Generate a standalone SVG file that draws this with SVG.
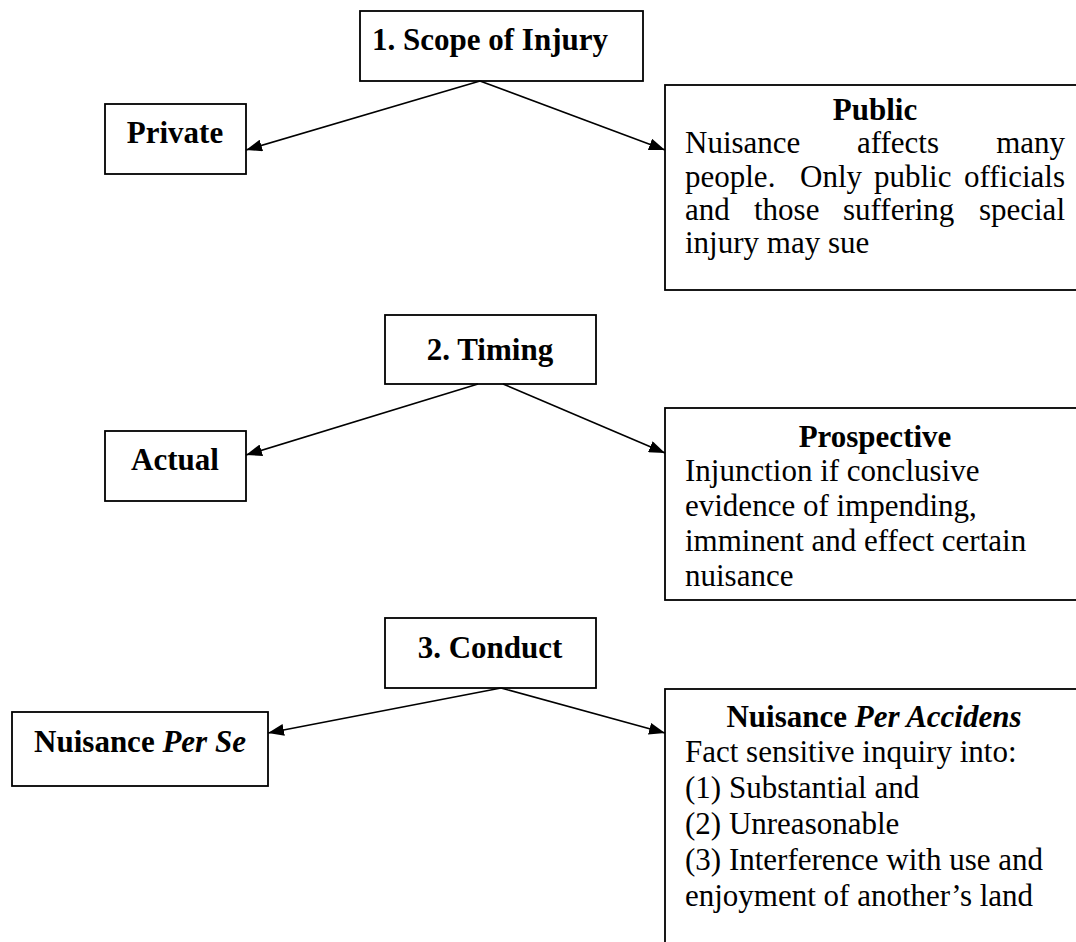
<svg xmlns="http://www.w3.org/2000/svg" width="1076" height="942" viewBox="0 0 1076 942">
<style>
.box{fill:#fff;stroke:#000;stroke-width:1.8}
.t{font-family:"Liberation Serif","Times New Roman",serif;font-size:31px;fill:#000}
.b{font-weight:bold}
.bi{font-weight:bold;font-style:italic}
.c{text-anchor:middle}
.conn line{stroke:#000;stroke-width:1.6}
</style>
<defs>
<marker id="ah" markerUnits="userSpaceOnUse" markerWidth="16" markerHeight="12" refX="16" refY="6" orient="auto">
<path d="M0,0 L16,6 L0,12 z" fill="#000"/>
</marker>
</defs>
<rect width="1076" height="942" fill="#fff"/>

<g id="n-scope">
<rect class="box" x="360" y="11" width="283" height="70"/>
<text class="t b c" x="490" y="50">1. Scope of Injury</text>
</g>
<g id="n-private">
<rect class="box" x="105" y="104" width="141" height="70"/>
<text class="t b c" x="175" y="143">Private</text>
</g>
<g id="n-public">
<rect class="box" x="665" y="85" width="425" height="205"/>
<text class="t b c" x="875" y="120">Public</text>
<text class="t" y="153"><tspan x="685">Nuisance</tspan><tspan x="857">affects</tspan><tspan x="1065" text-anchor="end">many</tspan></text>
<text class="t" y="187"><tspan x="685">people.</tspan><tspan x="800">Only</tspan><tspan x="874">public</tspan><tspan x="1065" text-anchor="end">officials</tspan></text>
<text class="t" y="220"><tspan x="685">and</tspan><tspan x="754">those</tspan><tspan x="843">suffering</tspan><tspan x="1065" text-anchor="end">special</tspan></text>
<text class="t" x="685" y="253">injury may sue</text>
</g>

<g id="n-timing">
<rect class="box" x="385" y="315" width="211" height="69"/>
<text class="t b c" x="490" y="360">2. Timing</text>
</g>
<g id="n-actual">
<rect class="box" x="105" y="431" width="141" height="70"/>
<text class="t b c" x="175" y="470">Actual</text>
</g>
<g id="n-prospective">
<rect class="box" x="665" y="408" width="425" height="192"/>
<text class="t b c" x="875" y="447">Prospective</text>
<text class="t" x="685" y="481">Injunction if conclusive</text>
<text class="t" x="685" y="516">evidence of impending,</text>
<text class="t" x="685" y="551">imminent and effect certain</text>
<text class="t" x="685" y="586">nuisance</text>
</g>

<g id="n-conduct">
<rect class="box" x="385" y="618" width="211" height="70"/>
<text class="t b c" x="490" y="658">3. Conduct</text>
</g>
<g id="n-perse">
<rect class="box" x="12" y="712" width="256" height="74"/>
<text class="t b c" x="140" y="752">Nuisance <tspan class="bi">Per Se</tspan></text>
</g>
<g id="n-peraccidens">
<rect class="box" x="665" y="689" width="425" height="270"/>
<text class="t b c" x="874" y="727">Nuisance <tspan class="bi">Per Accidens</tspan></text>
<text class="t" x="685" y="762">Fact sensitive inquiry into:</text>
<text class="t" x="685" y="798">(1) Substantial and</text>
<text class="t" x="685" y="834">(2) Unreasonable</text>
<text class="t" x="685" y="870">(3) Interference with use and</text>
<text class="t" x="685" y="906">enjoyment of another’s land</text>
</g>

<g id="connectors" class="conn">
<line x1="480" y1="81" x2="246" y2="150" marker-end="url(#ah)"/>
<line x1="480" y1="81" x2="665" y2="150" marker-end="url(#ah)"/>
<line x1="478" y1="384" x2="246" y2="455" marker-end="url(#ah)"/>
<line x1="503" y1="384" x2="665" y2="453" marker-end="url(#ah)"/>
<line x1="501" y1="688" x2="268" y2="733" marker-end="url(#ah)"/>
<line x1="501" y1="688" x2="665" y2="733" marker-end="url(#ah)"/>
</g>
</svg>
